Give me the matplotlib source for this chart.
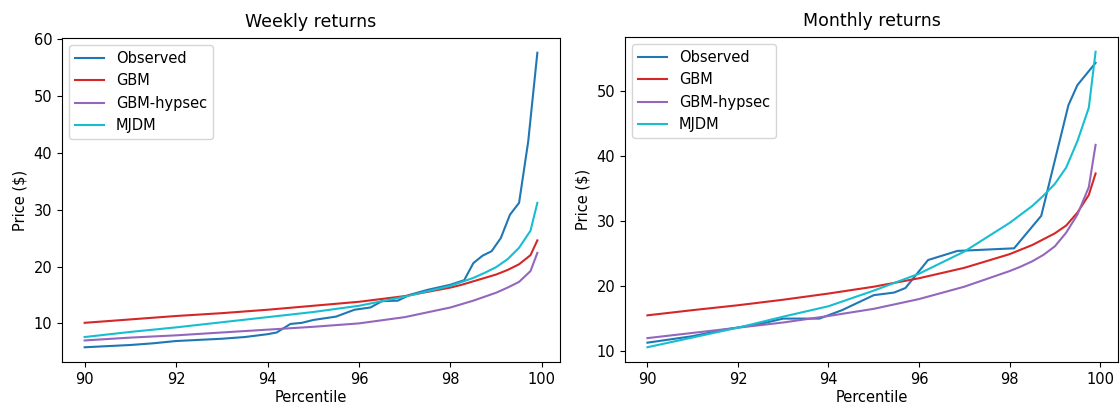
import matplotlib
matplotlib.use("Agg")
import matplotlib.pyplot as plt

# model percentiles (shared grid)
pct = [90, 91, 92, 93, 94, 95, 96, 97, 98, 98.25, 98.5, 98.75, 99, 99.25, 99.5, 99.75, 99.9]

# weekly returns
w_obs_pct = [90, 90.5, 91, 91.5, 92, 92.5, 93, 93.5, 94, 94.2, 94.5, 94.75, 95, 95.25,
             95.5, 95.9, 96.25, 96.5, 96.85, 97.1, 97.5, 98, 98.3, 98.5, 98.7, 98.9,
             99.1, 99.3, 99.5, 99.7, 99.9]
w_obs = [5.8, 6.0, 6.2, 6.5, 6.9, 7.1, 7.3, 7.6, 8.1, 8.4, 9.9, 10.1, 10.6, 10.9,
         11.2, 12.4, 12.8, 13.9, 14.0, 15.0, 15.9, 16.8, 17.6, 20.6, 21.9, 22.7,
         25.0, 29.1, 31.2, 42.0, 57.6]
w_gbm = [10.1, 10.7, 11.3, 11.8, 12.4, 13.1, 13.8, 14.8, 16.3, 16.8, 17.4, 18.0, 18.6,
         19.4, 20.4, 22.0, 24.6]
w_hyp = [7.0, 7.5, 7.9, 8.4, 8.9, 9.4, 10.0, 11.1, 12.8, 13.4, 14.0, 14.7, 15.4,
         16.3, 17.3, 19.2, 22.4]
w_mjdm = [7.6, 8.5, 9.3, 10.2, 11.1, 12.0, 13.1, 14.7, 16.6, 17.3, 18.0, 18.9, 19.9,
          21.3, 23.3, 26.3, 31.2]

# monthly returns
m_obs_pct = [90, 90.5, 91, 91.7, 92.5, 93, 93.8, 94.3, 95, 95.45, 95.7, 96.2, 96.85,
             98.1, 98.7, 99.3, 99.5, 99.9]
m_obs = [11.3, 11.8, 12.3, 13.3, 14.2, 15.0, 15.0, 16.3, 18.6, 19.0, 19.7, 24.0, 25.4,
         25.8, 30.8, 47.8, 50.9, 54.3]
m_gbm = [15.5, 16.3, 17.05, 17.9, 18.85, 19.9, 21.2, 22.8, 24.9, 25.6, 26.3, 27.2, 28.1,
         29.3, 31.3, 34.0, 37.3]
m_hyp = [12.0, 12.8, 13.6, 14.4, 15.4, 16.5, 18.0, 19.9, 22.3, 23.0, 23.8, 24.8, 26.1,
         28.2, 31.0, 35.2, 41.7]
m_mjdm = [10.6, 12.1, 13.6, 15.3, 16.9, 19.3, 21.9, 25.3, 29.7, 31.0, 32.3, 33.9, 35.7,
          38.2, 42.3, 47.4, 56.0]

plt.rcParams["font.size"] = 10.5

fig = plt.figure(figsize=(11.2, 4.05), dpi=100)
ax1 = fig.add_axes([62 / 1120, 43 / 405, 498 / 1120, 324 / 405])
ax2 = fig.add_axes([625 / 1120, 43 / 405, 493 / 1120, 325 / 405])

panels = [
    (ax1, "Weekly returns", w_obs_pct, w_obs, w_gbm, w_hyp, w_mjdm),
    (ax2, "Monthly returns", m_obs_pct, m_obs, m_gbm, m_hyp, m_mjdm),
]

for ax, title, opct, obs, gbm, hyp, mjdm in panels:
    ax.plot(opct, obs, color="tab:blue", label="Observed")
    ax.plot(pct, gbm, color="tab:red", label="GBM")
    ax.plot(pct, hyp, color="tab:purple", label="GBM-hypsec")
    ax.plot(pct, mjdm, color="tab:cyan", label="MJDM")
    ax.set_title(title, fontsize=12.5, pad=8)
    ax.set_xlabel("Percentile", labelpad=2)
    ax.set_ylabel("Price (\\$)")
    ax.set_xticks([90, 92, 94, 96, 98, 100])
    ax.legend(loc="upper left")

ax2.set_yticks([10, 20, 30, 40, 50])

fig.savefig("out.png", dpi=100)
